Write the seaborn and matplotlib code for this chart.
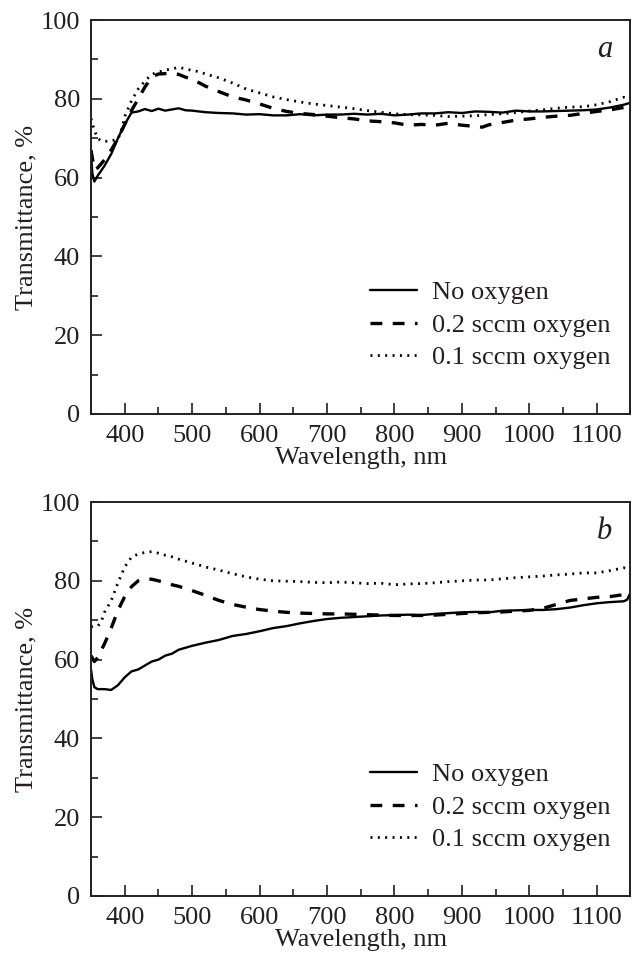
import numpy as np
import pandas as pd
import matplotlib
matplotlib.use("Agg")
import matplotlib.pyplot as plt
import seaborn as sns
from matplotlib.ticker import MultipleLocator

# ---------------- data ----------------
labels = ["No oxygen", "0.2 sccm oxygen", "0.1 sccm oxygen"]
panel_letters = ["a", "b"]

# Panel a
a_none_wl = [350, 352, 355, 360, 370, 380, 390, 400, 405, 410, 420, 430, 440, 450, 460, 470, 480, 490, 500,
             520, 540, 560, 580, 600, 620, 640, 660, 680, 700, 720, 740, 760, 780, 800, 820, 840, 860, 880,
             900, 920, 940, 960, 980, 1000, 1020, 1040, 1060, 1080, 1100, 1120, 1140, 1150]
a_none_T = [66, 61, 59, 60.5, 63, 66, 70, 73.5, 75, 76.5, 76.8, 77.4, 76.9, 77.5, 77.0, 77.3, 77.6, 77.1, 77.0,
            76.6, 76.4, 76.3, 76.0, 76.1, 75.8, 75.8, 76.1, 75.8, 76.0, 76.0, 76.2, 76.0, 76.2, 75.8, 76.0,
            76.3, 76.3, 76.6, 76.4, 76.8, 76.7, 76.5, 77.0, 76.8, 76.8, 76.9, 77.0, 77.1, 77.3, 77.8, 78.5, 79.0]

a_02_wl = [350, 355, 360, 370, 380, 390, 400, 410, 420, 430, 440, 450, 460, 470, 480, 490, 500, 520, 540,
           560, 580, 600, 620, 640, 660, 680, 700, 720, 740, 760, 780, 800, 820, 840, 860, 880, 900, 920,
           930, 940, 960, 980, 1000, 1020, 1040, 1060, 1080, 1100, 1120, 1140, 1150]
a_02_T = [67, 62, 62.5, 64.5, 67, 70, 73.5, 77, 80, 83, 85.5, 86.3, 86.4, 86.5, 86.2, 85.5, 85.0, 83.2, 81.8,
          80.5, 79.7, 78.7, 77.6, 76.8, 76.3, 76.0, 75.6, 75.2, 74.9, 74.4, 74.2, 73.9, 73.3, 73.5, 73.3,
          73.8, 73.3, 73.0, 72.8, 73.4, 74.0, 74.6, 74.9, 75.3, 75.6, 75.8, 76.3, 76.8, 77.2, 77.8, 78.2]

a_01_wl = [350, 355, 360, 365, 370, 380, 390, 395, 400, 410, 420, 430, 440, 450, 460, 470, 480, 490, 500,
           510, 520, 540, 560, 580, 600, 620, 640, 660, 680, 700, 720, 740, 760, 780, 800, 820, 840, 860,
           880, 900, 920, 940, 960, 980, 1000, 1020, 1040, 1060, 1080, 1100, 1120, 1140, 1150]
a_01_T = [75, 72, 70, 69.3, 69.2, 69.3, 69.8, 72, 75.5, 79.5, 82.5, 84.5, 86.2, 86.8, 87.3, 87.6, 88.0, 87.6,
          87.2, 86.9, 86.3, 85.3, 84.0, 82.5, 81.5, 80.5, 79.8, 79.2, 78.7, 78.3, 77.9, 77.5, 77.0, 76.6,
          76.2, 76.0, 75.9, 75.8, 75.5, 75.6, 75.7, 76.0, 76.2, 76.5, 76.9, 77.2, 77.6, 77.9, 78.0, 78.5,
          79.3, 80.4, 80.0]

# Panel b
b_none_wl = [350, 352, 355, 360, 370, 380, 390, 400, 410, 420, 430, 440, 450, 460, 470, 480, 490, 500, 520,
             540, 560, 580, 600, 620, 640, 660, 680, 700, 720, 740, 760, 780, 800, 820, 840, 860, 880, 900,
             920, 940, 960, 980, 1000, 1020, 1040, 1060, 1080, 1100, 1120, 1140, 1145, 1150]
b_none_T = [57.5, 55, 53, 52.5, 52.5, 52.3, 53.5, 55.5, 57, 57.5, 58.5, 59.5, 60, 61, 61.5, 62.5, 63, 63.5,
            64.3, 65, 66, 66.5, 67.2, 68, 68.5, 69.2, 69.8, 70.3, 70.6, 70.8, 71.0, 71.2, 71.3, 71.4, 71.3,
            71.6, 71.8, 72.0, 72.1, 72.0, 72.4, 72.5, 72.6, 72.6, 72.8, 73.2, 73.8, 74.3, 74.6, 74.8, 75.2, 77.0]

b_02_wl = [350, 355, 360, 370, 380, 390, 400, 410, 420, 430, 440, 450, 460, 470, 480, 500, 520, 540, 560,
           580, 600, 620, 640, 660, 680, 700, 720, 740, 760, 780, 800, 820, 840, 860, 880, 900, 920, 940,
           960, 980, 1000, 1020, 1040, 1060, 1080, 1100, 1120, 1140, 1150]
b_02_T = [61, 59.5, 60.5, 64, 68, 72.5, 76, 78.5, 80, 80.5, 80.4, 80, 79.5, 79, 78.6, 77.5, 76.3, 75, 74,
          73.3, 72.7, 72.3, 72.0, 71.8, 71.7, 71.6, 71.6, 71.5, 71.4, 71.3, 71.2, 71.2, 71.2, 71.3, 71.5,
          71.7, 71.9, 72.0, 72.1, 72.3, 72.5, 73.0, 74.0, 75.0, 75.4, 75.8, 76.0, 76.5, 76.5]

b_01_wl = [350, 360, 365, 370, 380, 390, 400, 410, 420, 430, 440, 450, 460, 470, 480, 490, 500, 520, 540,
           560, 580, 600, 620, 640, 660, 680, 700, 720, 740, 760, 780, 800, 820, 840, 860, 880, 900, 920,
           940, 960, 980, 1000, 1020, 1040, 1060, 1080, 1100, 1120, 1140, 1150]
b_01_T = [68.3, 68.5, 69.5, 72, 75, 79.5, 83.5, 86, 86.8, 87.2, 87.4, 87.0, 86.5, 86.1, 85.5, 85.0, 84.5,
          83.5, 82.7, 81.8, 81.0, 80.4, 80.0, 79.9, 79.8, 79.6, 79.5, 79.7, 79.5, 79.3, 79.4, 79.0, 79.2,
          79.3, 79.5, 79.8, 80.0, 80.2, 80.2, 80.5, 80.8, 81.0, 81.2, 81.5, 81.7, 82.0, 82.0, 82.6, 83.3, 83.0]

x_ticks = [400, 500, 600, 700, 800, 900, 1000, 1100]
y_ticks = [0, 20, 40, 60, 80, 100]

# ---------------- style ----------------
sns.set_theme(style="ticks")
plt.rcParams["font.family"] = ["Liberation Serif", "DejaVu Serif"]
plt.rcParams["lines.scale_dashes"] = False
plt.rcParams["axes.linewidth"] = 1.4
text_color = "#231f20"
FS = 19

fig = plt.figure(figsize=(6.35, 9.63), dpi=100)
ax_a = fig.add_axes([0.1433, 0.5701, 0.8496, 0.4091])
ax_b = fig.add_axes([0.1433, 0.0696, 0.8496, 0.4091])

styles = [
    dict(linestyle="-", linewidth=1.7),
    dict(linestyle=(0, (8.5, 7.5)), linewidth=2.4),
    dict(linestyle=(0, (1.4, 3.9)), linewidth=2.0),
]

panels = [
    (ax_a, [(a_none_wl, a_none_T), (a_02_wl, a_02_T), (a_01_wl, a_01_T)]),
    (ax_b, [(b_none_wl, b_none_T), (b_02_wl, b_02_T), (b_01_wl, b_01_T)]),
]

for (ax, series), letter in zip(panels, panel_letters):
    for (wl, T), lab, st in zip(series, labels, styles):
        df = pd.DataFrame({"Wavelength": wl, "T": T})
        sns.lineplot(data=df, x="Wavelength", y="T", ax=ax, color="black", label=lab,
                     estimator=None, **st)
    ax.set_xlim(350, 1150)
    ax.set_ylim(0, 100)
    ax.set_xticks(x_ticks)
    ax.set_yticks(y_ticks)
    ax.xaxis.set_minor_locator(MultipleLocator(50))
    ax.yaxis.set_minor_locator(MultipleLocator(10))
    ax.tick_params(which="major", direction="in", length=8, width=1.2, labelsize=FS,
                   colors=text_color, top=False, right=False)
    ax.tick_params(axis="x", which="major", pad=8)
    ax.tick_params(axis="y", which="major", pad=8)
    ax.tick_params(which="minor", direction="in", length=5, width=1.2, colors=text_color,
                   top=False, right=False)
    for sp in ax.spines.values():
        sp.set_visible(True)
        sp.set_color(text_color)
        sp.set_linewidth(1.4)
    ax.set_xlabel("Wavelength, nm", fontsize=FS, color=text_color, labelpad=0)
    ax.set_ylabel("Transmittance, %", fontsize=FS, color=text_color, labelpad=2)
    ax.text(0.966, 0.905, letter, transform=ax.transAxes, ha="right", va="baseline",
            fontsize=22, fontstyle="italic", color=text_color)
    leg = ax.legend(loc="lower left", bbox_to_anchor=(0.517, 0.113), frameon=False,
                    fontsize=FS, handlelength=1.8, handletextpad=0.55, labelspacing=0.35,
                    borderpad=0, borderaxespad=0)
    for t in leg.get_texts():
        t.set_color(text_color)

fig.savefig("out.png", dpi=100)
